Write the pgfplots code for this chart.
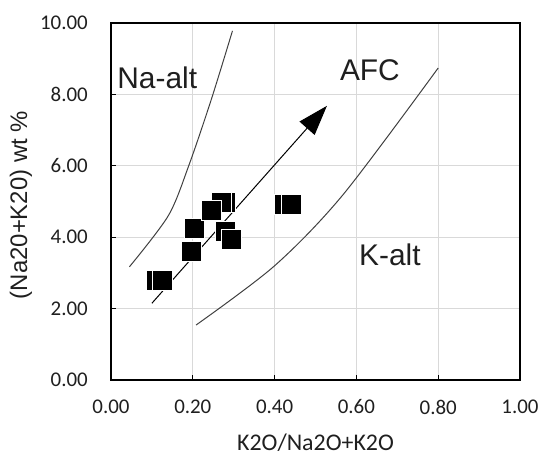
\documentclass[border=0pt]{standalone}
\usepackage{pgfplots}
\pgfplotsset{compat=1.18}
\usepackage{fontspec}
\setmainfont{Liberation Sans}
\newfontfamily\calibri{Carlito}
\usetikzlibrary{arrows.meta}
\definecolor{gridgray}{HTML}{D9D9D9}
\definecolor{linegray}{HTML}{404040}
\definecolor{txt}{HTML}{1F1F1F}
\begin{document}
\begin{tikzpicture}
\path[use as bounding box] (-111bp,-79bp) rectangle (432bp,380bp);
\begin{axis}[
  scale only axis,
  width=409bp, height=357bp,
  xmin=0, xmax=1, ymin=0, ymax=10,
  xtick={0,0.2,0.4,0.6,0.8,1.0},
  ytick={0,2,4,6,8,10},
  grid=major,
  major grid style={gridgray, line width=0.9bp},
  axis line style={black, line width=1.2bp},
  tick align=inside,
  major tick length=5bp,
  tick style={black, line width=0.9bp},
  xtick pos=bottom, ytick pos=left,
  /pgf/number format/assume math mode=true,
  /pgf/number format/.cd, fixed, fixed zerofill, precision=2, /pgfplots/.cd,
  ticklabel style={font=\calibri\fontsize{21}{25}\selectfont, text=txt, inner sep=0pt},
  yticklabel style={anchor=east, xshift=-23bp},
  xticklabel style={anchor=center, yshift=-27bp},
  xlabel={K2O/Na2O+K2O},
  xlabel style={font=\calibri\fontsize{24}{26}\selectfont, text=txt, inner sep=0pt, at={(axis description cs:0.5,-0.176)}, anchor=center},
  ylabel={(Na20+K20) wt \%},
  ylabel style={font=\fontsize{24}{28}\selectfont, text=txt, at={(axis description cs:-0.22,0.49)}, anchor=center},
  clip=false,
]
% Na-alt boundary
\addplot[linegray, line width=1bp, smooth] coordinates {(0.045,3.17) (0.14,4.6) (0.19,6.0) (0.245,7.85) (0.297,9.78)};
% K-alt boundary
\addplot[linegray, line width=1bp, smooth] coordinates {(0.208,1.54) (0.40,3.2) (0.568,5.2) (0.80,8.74)};
% AFC arrow
\addplot[black, line width=1bp, -{Triangle[length=30bp,width=20bp]}] coordinates {(0.10,2.15) (0.528,7.68)};
% samples
\addplot[only marks, mark=square*, mark size=10bp, mark options={fill=black, draw=white, line width=0.8bp}] coordinates {
(0.110,2.80) (0.125,2.80)
(0.196,3.61)
(0.205,4.25)
(0.280,4.97) (0.270,4.97)
(0.245,4.76)
(0.280,4.15) (0.295,3.94)
(0.425,4.93) (0.440,4.93)
};
\node[font=\fontsize{30}{34}\selectfont, text=txt] at (axis cs:0.113,8.46) {Na-alt};
\node[font=\fontsize{30}{34}\selectfont, text=txt] at (axis cs:0.633,8.68) {AFC};
\node[font=\fontsize{30}{34}\selectfont, text=txt] at (axis cs:0.682,3.50) {K-alt};
\end{axis}
\end{tikzpicture}
\end{document}
